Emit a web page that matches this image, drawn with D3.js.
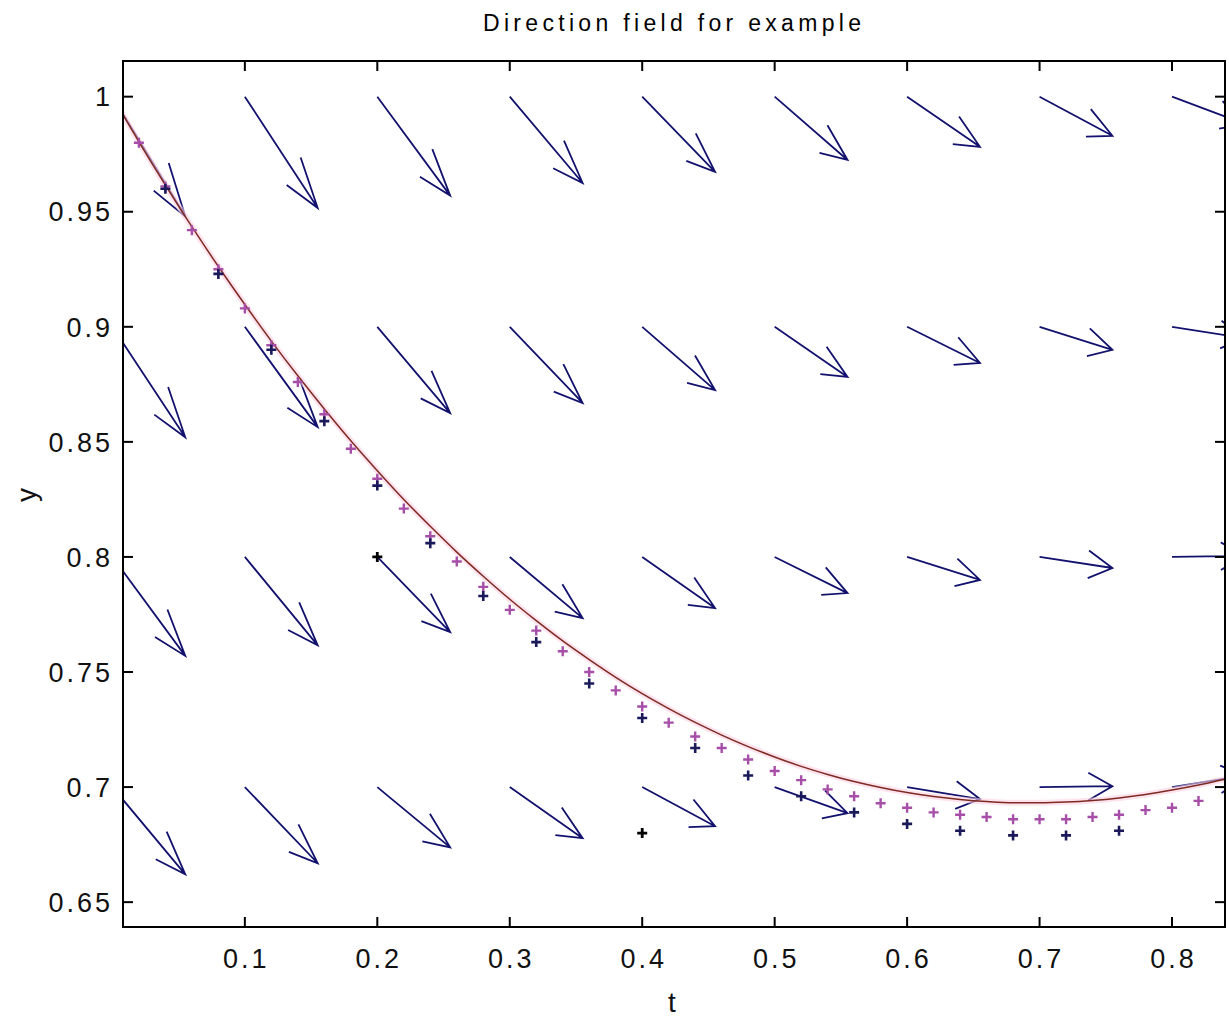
<!DOCTYPE html>
<html><head><meta charset="utf-8">
<script src="https://cdn.jsdelivr.net/npm/d3@7"></script>
<style>body{margin:0;background:#fff}svg{display:block}</style>
</head><body>
<svg id="c" width="1229" height="1024"></svg>
<script>
// ---- axis ticks ----
const xTicks = [0.1, 0.2, 0.3, 0.4, 0.5, 0.6, 0.7, 0.8];
const xTickLabels = ["0.1", "0.2", "0.3", "0.4", "0.5", "0.6", "0.7", "0.8"];
const yTicks = [0.65, 0.7, 0.75, 0.8, 0.85, 0.9, 0.95, 1];
const yTickLabels = ["0.65", "0.7", "0.75", "0.8", "0.85", "0.9", "0.95", "1"];
const xLimits = [0.008, 0.84];
const yLimits = [0.6392, 1.0155];

// ---- direction field (quiver) ----
const fieldT = [0, 0.1, 0.2, 0.3, 0.4, 0.5, 0.6, 0.7, 0.8];
const fieldY = [1.0, 0.9, 0.8, 0.7];
const fieldU = 0.055;
const fieldV = [
  [-0.0520, -0.0484, -0.0430, -0.0375, -0.0327, -0.0275, -0.0218, -0.0170, -0.0118],
  [-0.0480, -0.0436, -0.0375, -0.0331, -0.0275, -0.0218, -0.0157, -0.0100, -0.0050],
  [-0.0430, -0.0384, -0.0327, -0.0266, -0.0222, -0.0157, -0.0100, -0.0048, 0.0005],
  [-0.0379, -0.0331, -0.0262, -0.0222, -0.0170, -0.0113, -0.0052, 0.0004, 0.0050]
];

// ---- solution curve ----
const curveT = [0, 0.02, 0.04, 0.06, 0.08, 0.10, 0.12, 0.14, 0.16, 0.18, 0.20, 0.22, 0.24, 0.26, 0.28,
  0.30, 0.32, 0.34, 0.36, 0.38, 0.40, 0.42, 0.44, 0.46, 0.48, 0.50, 0.52, 0.54, 0.56, 0.58, 0.60,
  0.62, 0.64, 0.66, 0.68, 0.70, 0.72, 0.74, 0.76, 0.78, 0.80, 0.82, 0.84];
const curveY = [1.0000, 0.9804, 0.9616, 0.9435, 0.9262, 0.9097, 0.8938, 0.8787, 0.8643, 0.8505, 0.8375,
  0.8250, 0.8133, 0.8021, 0.7916, 0.7816, 0.7723, 0.7635, 0.7554, 0.7477, 0.7406, 0.7341, 0.7281,
  0.7226, 0.7176, 0.7131, 0.7090, 0.7055, 0.7024, 0.6998, 0.6976, 0.6959, 0.6946, 0.6937, 0.6932,
  0.6932, 0.6935, 0.6942, 0.6953, 0.6968, 0.6987, 0.7009, 0.7034];

// ---- magenta '+' points (step 0.02) ----
const magT = [0.02, 0.04, 0.06, 0.08, 0.10, 0.12, 0.14, 0.16, 0.18, 0.20, 0.22, 0.24, 0.26, 0.28, 0.30,
  0.32, 0.34, 0.36, 0.38, 0.40, 0.42, 0.44, 0.46, 0.48, 0.50, 0.52, 0.54, 0.56, 0.58, 0.60, 0.62,
  0.64, 0.66, 0.68, 0.70, 0.72, 0.74, 0.76, 0.78, 0.80, 0.82];
const magY = [0.980, 0.961, 0.942, 0.925, 0.908, 0.892, 0.876, 0.862, 0.847, 0.834, 0.821, 0.809, 0.798,
  0.787, 0.777, 0.768, 0.759, 0.750, 0.742, 0.735, 0.728, 0.722, 0.717, 0.712, 0.707, 0.703, 0.699,
  0.696, 0.693, 0.691, 0.689, 0.688, 0.687, 0.686, 0.686, 0.686, 0.687, 0.688, 0.690, 0.691, 0.694];

// ---- navy '+' points (step 0.04) ----
const navyT = [0.04, 0.08, 0.12, 0.16, 0.20, 0.24, 0.28, 0.32, 0.36, 0.40, 0.44, 0.48, 0.52, 0.56,
  0.60, 0.64, 0.68, 0.72, 0.76];
const navyY = [0.960, 0.923, 0.890, 0.859, 0.831, 0.806, 0.783, 0.763, 0.745, 0.730, 0.717, 0.705,
  0.696, 0.689, 0.684, 0.681, 0.679, 0.679, 0.681];

// ---- black '+' points (step 0.2) ----
const blackT = [0, 0.2, 0.4];
const blackY = [1.0, 0.8, 0.68];

// ================= drawing =================
const L = 123, R = 1225, T = 61, B = 927;
const svg = d3.select("#c");
const x = d3.scaleLinear().domain(xLimits).range([L, R]);
const y = d3.scaleLinear().domain(yLimits).range([B, T]);

svg.append("rect").attr("width", 1229).attr("height", 1024).attr("fill", "#fff");
svg.append("defs").append("clipPath").attr("id", "clip")
  .append("rect").attr("x", L).attr("y", T).attr("width", R - L).attr("height", B - T);

const plot = svg.append("g").attr("clip-path", "url(#clip)");

// quiver arrows (MATLAB-style heads, alpha = beta = 0.33 in data units)
const alpha = 0.33, beta = 0.33;
const arrows = [];
fieldY.forEach((yy, r) => fieldT.forEach((tt, c) => arrows.push({t: tt, y: yy, u: fieldU, v: fieldV[r][c]})));
plot.append("g").selectAll("path").data(arrows).join("path")
  .attr("d", a => {
    const tx = a.t + a.u, ty = a.y + a.v;
    const b1x = tx - alpha * (a.u + beta * a.v), b1y = ty - alpha * (a.v - beta * a.u);
    const b2x = tx - alpha * (a.u - beta * a.v), b2y = ty - alpha * (a.v + beta * a.u);
    return `M${x(a.t)},${y(a.y)}L${x(tx)},${y(ty)}M${x(b1x)},${y(b1y)}L${x(tx)},${y(ty)}L${x(b2x)},${y(b2y)}`;
  })
  .attr("fill", "none").attr("stroke", "#12126e").attr("stroke-width", 1.8)
  .attr("stroke-linejoin", "miter");

// solution curve
const curve = curveT.map((t, i) => [t, curveY[i]]);
const line = d3.line().x(d => x(d[0])).y(d => y(d[1])).curve(d3.curveMonotoneX);
plot.append("path").datum(curve).attr("d", line)
  .attr("fill", "none").attr("stroke", "#fcd0e2").attr("stroke-opacity", 0.6).attr("stroke-width", 6);
plot.append("path").datum(curve).attr("d", line)
  .attr("fill", "none").attr("stroke", "#7e2a22").attr("stroke-width", 1.5);

// plus markers
function plus(g, ts, ys, color, sw, s) {
  g.append("g").selectAll("path").data(ts.map((t, i) => [t, ys[i]])).join("path")
    .attr("d", d => {
      const px = x(d[0]), py = y(d[1]);
      return `M${px - s},${py}H${px + s}M${px},${py - s}V${py + s}`;
    })
    .attr("stroke", color).attr("stroke-width", sw).attr("fill", "none");
}
plus(plot, magT, magY, "#a64ea8", 2.4, 5);
plus(plot, navyT, navyY, "#1a1a5a", 2.6, 5);
plus(plot, blackT, blackY, "#000", 2.8, 5);

// ---- axes box & ticks ----
const axes = svg.append("g").attr("stroke", "#000").attr("stroke-width", 2);
axes.append("rect").attr("x", L).attr("y", T).attr("width", R - L).attr("height", B - T)
  .attr("fill", "none");
const tk = 10;
xTicks.forEach(v => {
  axes.append("line").attr("x1", x(v)).attr("x2", x(v)).attr("y1", B).attr("y2", B - tk);
  axes.append("line").attr("x1", x(v)).attr("x2", x(v)).attr("y1", T).attr("y2", T + tk);
});
yTicks.forEach(v => {
  axes.append("line").attr("y1", y(v)).attr("y2", y(v)).attr("x1", L).attr("x2", L + tk);
  axes.append("line").attr("y1", y(v)).attr("y2", y(v)).attr("x1", R).attr("x2", R - tk);
});

const font = "'Liberation Sans', Arial, sans-serif";
const tl = svg.append("g").attr("font-family", font).attr("font-size", 27).attr("fill", "#111");
tl.selectAll("text.xt").data(xTicks).join("text").attr("class", "xt")
  .attr("x", d => x(d) + 1.5).attr("y", 968).attr("text-anchor", "middle")
  .attr("letter-spacing", "3px").text((d, i) => xTickLabels[i]);
tl.selectAll("text.yt").data(yTicks).join("text").attr("class", "yt")
  .attr("x", 113).attr("y", d => y(d)).attr("dy", "0.36em").attr("text-anchor", "end")
  .attr("letter-spacing", "3px").text((d, i) => yTickLabels[i]);

svg.append("text").attr("x", 672).attr("y", 1012).attr("text-anchor", "middle")
  .attr("font-family", font).attr("font-size", 28).attr("fill", "#111").text("t");
svg.append("text").attr("transform", "translate(36,495) rotate(-90)").attr("text-anchor", "middle")
  .attr("font-family", font).attr("font-size", 28).attr("fill", "#111").text("y");
svg.append("text").attr("x", 672).attr("y", 31).attr("text-anchor", "middle")
  .attr("font-family", font).attr("font-size", 23).attr("fill", "#000")
  .attr("textLength", 378).attr("lengthAdjust", "spacing").text("Direction field for example");
</script>
</body></html>
